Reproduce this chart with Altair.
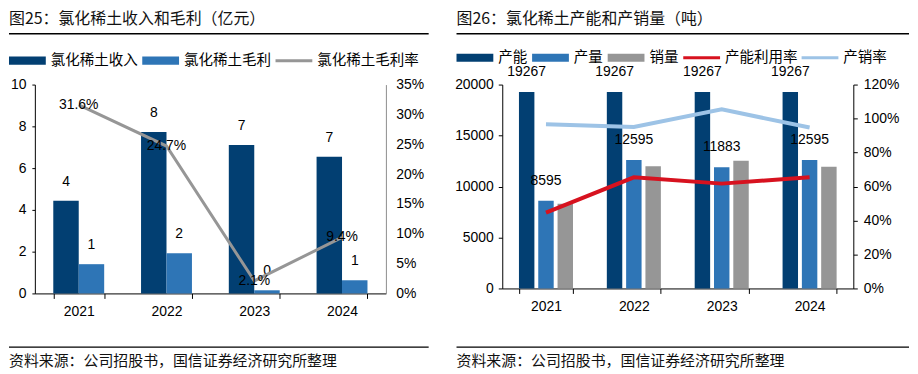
import altair as alt
import pandas as pd

# ---------------- data ----------------
years = ["2021", "2022", "2023", "2024"]

# 图25 (亿元 / %)
revenue = [4.44, 7.73, 7.11, 6.54]
gross_profit = [1.40, 1.92, 0.15, 0.63]
gross_margin = [31.6, 24.7, 2.1, 9.4]

# 图26 (吨 / %)
capacity = [19267, 19267, 19267, 19267]
output = [8595, 12595, 11883, 12595]
sales = [8310, 11980, 12520, 11930]
utilization = [44.6, 65.4, 61.7, 65.4]
sell_through = [96.7, 95.1, 105.4, 94.7]

left_series = ["氯化稀土收入", "氯化稀土毛利", "氯化稀土毛利率"]
right_series = ["产能", "产量", "销量", "产能利用率", "产销率"]
left_title = "图25：氯化稀土收入和毛利（亿元）"
right_title = "图26：氯化稀土产能和产销量（吨）"
source_text = "资料来源：公司招股书，国信证券经济研究所整理"

left_axis_vals = [0, 2, 4, 6, 8, 10]
left_pct_vals = [0, 0.05, 0.10, 0.15, 0.20, 0.25, 0.30, 0.35]
right_axis_vals = [0, 5000, 10000, 15000, 20000]
right_pct_vals = [0, 0.2, 0.4, 0.6, 0.8, 1.0, 1.2]

# ---------------- tables ----------------
left_bars = pd.DataFrame({
    "year": years * 2,
    "series": [left_series[0]] * 4 + [left_series[1]] * 4,
    "value": revenue + gross_profit,
})
left_line = pd.DataFrame({
    "year": years,
    "series": [left_series[2]] * 4,
    "value": [m / 100 for m in gross_margin],
})
right_bars = pd.DataFrame({
    "year": years * 3,
    "series": [right_series[0]] * 4 + [right_series[1]] * 4 + [right_series[2]] * 4,
    "value": capacity + output + sales,
})
right_lines = pd.DataFrame({
    "year": years * 2,
    "series": [right_series[3]] * 4 + [right_series[4]] * 4,
    "value": [u / 100 for u in utilization] + [s / 100 for s in sell_through],
})

# ---------------- styles ----------------
CJK = "Noto Sans CJK SC"
NUM = "Liberation Sans"
NAVY = "#023f72"
BLUE = "#2e75b6"
GRAY = "#969696"
RED = "#d7121f"
LBLUE = "#9dc3e6"
RECT = "M-1,-0.22H1V0.22H-1Z"
LINE = "M-1,-0.08H1V0.08H-1Z"

W = 353
H1 = 210
H2 = 205


def legend(x, y):
    return alt.Legend(
        title=None, orient="none", legendX=x, legendY=y, direction="horizontal",
        symbolSize=1369, symbolOpacity=1, symbolStrokeWidth=0,
        labelFont=CJK, labelFontSize=14.6, labelColor="#000", labelOffset=5,
        columnPadding=4, padding=0, labelLimit=400,
    )


def x_enc(pi, po):
    return alt.X(
        "year:N", sort=years, title=None,
        scale=alt.Scale(type="band", paddingInner=pi, paddingOuter=po),
        axis=alt.Axis(labelAngle=0, tickBand="extent", tickSize=5, labelFont=NUM,
                      labelFontSize=14, labelColor="#000", labelPadding=6,
                      domainColor="#000", tickColor="#000"),
    )


def decorations(title, x0, x1):
    one = pd.DataFrame({"t": [title]})
    t = alt.Chart(one).mark_text(
        font=CJK, fontSize=16, align="left", baseline="middle", color="#111"
    ).encode(x=alt.value(x0), y=alt.value(-66), text="t:N")
    r1 = alt.Chart(one).mark_rule(color="#000", strokeWidth=1.5).encode(
        x=alt.value(x0), x2=alt.value(x1), y=alt.value(-51))
    r2 = alt.Chart(one).mark_rule(color="#000", strokeWidth=1.5).encode(
        x=alt.value(x0), x2=alt.value(x1), y=alt.value(264))
    src = alt.Chart(pd.DataFrame({"t": [source_text]})).mark_text(
        font=CJK, fontSize=15, align="left", baseline="middle", color="#111"
    ).encode(x=alt.value(x0), y=alt.value(278), text="t:N")
    return [t, r1, r2, src]


# ---------------- left chart ----------------
legL = legend(-26, -43)
cL = alt.Scale(domain=left_series, range=[NAVY, BLUE, GRAY])
xL = x_enc(0.42, 0.21)
xoL = alt.XOffset("series:N", sort=left_series[:2],
                  scale=alt.Scale(type="band", domain=left_series[:2],
                                  paddingInner=0, paddingOuter=0))
yL = alt.Y("value:Q", title=None, scale=alt.Scale(domain=[0, 10]),
           axis=alt.Axis(orient="left", values=left_axis_vals, tickSize=3,
                         labelFont=NUM, labelFontSize=14, labelColor="#000",
                         labelPadding=6, domainColor="#000", tickColor="#000", grid=False))
yL_noaxis = alt.Y("value:Q", title=None, scale=alt.Scale(domain=[0, 10]), axis=None)
yLp = alt.Y("value:Q", title=None, scale=alt.Scale(domain=[0, 0.35]),
            axis=alt.Axis(orient="right", values=left_pct_vals, format=".0%", ticks=False,
                          labelFont=NUM, labelFontSize=14, labelColor="#000",
                          labelPadding=10, domainColor="#8c8c8c", grid=False))
yLp_noaxis = alt.Y("value:Q", title=None, scale=alt.Scale(domain=[0, 0.35]), axis=None)

leg_l = alt.Chart(pd.DataFrame({"series": left_series})).mark_point(
    filled=True, opacity=0).encode(
    color=alt.Color("series:N", scale=cL, legend=legL),
    shape=alt.Shape("series:N", scale=alt.Scale(domain=left_series, range=[RECT, RECT, LINE]),
                    legend=legL))
bars_l = alt.Chart(left_bars).mark_bar().encode(
    x=xL, xOffset=xoL, y=yL, color=alt.Color("series:N", scale=cL, legend=legL))
bar_txt_l = alt.Chart(left_bars).mark_text(
    font=NUM, fontSize=14, dy=-19, color="#000", baseline="middle").encode(
    x=xL, xOffset=xoL, y=yL_noaxis, text=alt.Text("value:Q", format=".0f"))
line_l = alt.Chart(left_line).mark_line(strokeWidth=3).encode(
    x=xL, y=yLp, color=alt.Color("series:N", scale=cL, legend=legL))
line_txt_l = alt.Chart(left_line).mark_text(
    font=NUM, fontSize=14, color="#000", baseline="middle").encode(
    x=xL, y=yLp_noaxis, text=alt.Text("value:Q", format=".1%"))

left = alt.layer(
    leg_l, bars_l, bar_txt_l, line_l, line_txt_l, *decorations(left_title, -26, 396)
).resolve_scale(y="independent").properties(width=W, height=H1)

# ---------------- right chart ----------------
legR = legend(-46, -46)
cR = alt.Scale(domain=right_series, range=[NAVY, BLUE, GRAY, RED, LBLUE])
xR = x_enc(0.385, 0.19)
xoR = alt.XOffset("series:N", sort=right_series[:3],
                  scale=alt.Scale(type="band", domain=right_series[:3],
                                  paddingInner=0.2, paddingOuter=0))
yR = alt.Y("value:Q", title=None, scale=alt.Scale(domain=[0, 20000]),
           axis=alt.Axis(orient="left", values=right_axis_vals, format="d", tickSize=4,
                         labelFont=NUM, labelFontSize=14, labelColor="#000",
                         labelPadding=5, domainColor="#000", tickColor="#000", grid=False))
yR_noaxis = alt.Y("value:Q", title=None, scale=alt.Scale(domain=[0, 20000]), axis=None)
yRp = alt.Y("value:Q", title=None, scale=alt.Scale(domain=[0, 1.2]),
            axis=alt.Axis(orient="right", values=right_pct_vals, format=".0%", tickSize=4,
                          labelFont=NUM, labelFontSize=14, labelColor="#000",
                          labelPadding=6, domainColor="#000", tickColor="#000", grid=False))

leg_r = alt.Chart(pd.DataFrame({"series": right_series})).mark_point(
    filled=True, opacity=0).encode(
    color=alt.Color("series:N", scale=cR, legend=legR),
    shape=alt.Shape("series:N",
                    scale=alt.Scale(domain=right_series, range=[RECT, RECT, RECT, LINE, LINE]),
                    legend=legR))
bars_r = alt.Chart(right_bars).mark_bar().encode(
    x=xR, xOffset=xoR, y=yR, color=alt.Color("series:N", scale=cR, legend=legR))
bar_txt_r = alt.Chart(right_bars).transform_filter(
    alt.datum.series != right_series[2]).mark_text(
    font=NUM, fontSize=14, dy=-20, color="#000", baseline="middle").encode(
    x=xR, xOffset=xoR, y=yR_noaxis, text=alt.Text("value:Q", format="d"))
lines_r = alt.Chart(right_lines).mark_line(strokeWidth=4).encode(
    x=xR, y=yRp, detail="series:N",
    color=alt.Color("series:N", scale=cR, legend=legR))

right = alt.layer(
    leg_r, bars_r, bar_txt_r, lines_r, *decorations(right_title, -46, 409)
).resolve_scale(y="independent").properties(width=W, height=H2)

chart = alt.hconcat(left, right, spacing=25).resolve_scale(
    color="independent", shape="independent", xOffset="independent"
).resolve_legend(
    color="independent", shape="independent"
).properties(padding={"top": 2, "left": 0, "right": 0, "bottom": 0}).configure_view(
    stroke=None).configure_axis(grid=False)

chart.save("out.html", embed_options={"renderer": "svg", "actions": False})
